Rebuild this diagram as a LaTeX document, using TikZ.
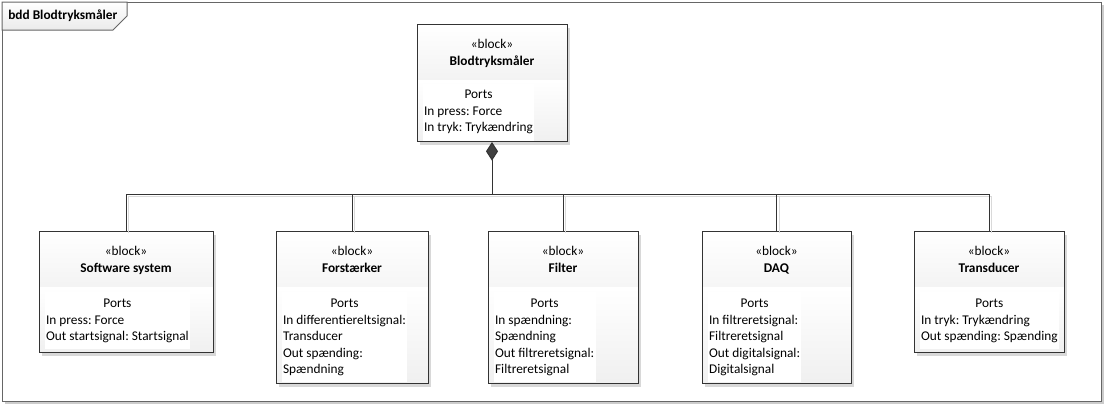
\documentclass[tikz,border=0pt]{standalone}
\usepackage{fontspec}
\setmainfont{Carlito}
\frenchspacing
\usetikzlibrary{positioning,shadows,arrows.meta}

\begin{document}
\begin{tikzpicture}[
  x = 0.75pt, y = -0.75pt,
  blocksize/.style 2 args = {minimum width = #1*0.75pt, minimum height = #2*0.75pt},
  frame/.style = {draw = black!60, line width = 0.75pt, fill = white, inner sep = 0pt,
    drop shadow = {shadow xshift = 1.5pt, shadow yshift = -1.5pt, fill = black!40}},
  tab/.style = {draw = black!60, line width = 0.75pt, top color = white, bottom color = black!8},
  block/.style = {draw = black!80, line width = 0.75pt, fill = white, inner sep = 0pt,
    drop shadow = {shadow xshift = 2.25pt, shadow yshift = -2.25pt, fill = black!30},
    path picture = {
      \shade[top color = white, bottom color = black!10]
        (path picture bounding box.north west) rectangle
        ([yshift = -42pt]path picture bounding box.north east);
      \shade[top color = white, bottom color = black!6]
        ([yshift = -42pt]path picture bounding box.north west) rectangle
        (path picture bounding box.south east);
    }},
  head/.style = {align = center, inner sep = 0pt, font = \fontsize{10}{12.75}\selectfont},
  ports/.style = {fill = white, inner xsep = 1pt, inner ysep = 2.8pt,
    font = \fontsize{10}{12.4}\selectfont},
  conn/.style = {draw = black!80, line width = 0.75pt,
    preaction = {draw = black!15, transform canvas = {shift = {(1.7pt,-1.7pt)}}}}
]

\useasboundingbox (0,0) rectangle (1105,405);

% frame
\node[frame, blocksize = {1099}{399}, anchor = north west] (frame) at (2,2) {};
\shadedraw[tab] (frame.north west) -- ++(125,0) -- ++(0,14) -- ++(-14,14) -- ++(-111,0) -- cycle;
\node[anchor = west, inner sep = 0pt, font = \bfseries\fontsize{10}{12}\selectfont]
  (frametitle) at (8,16) {bdd Blodtryksmåler};

% top block
\node[block, blocksize = {150}{117}, anchor = north] (maaler) at (492,24) {};
\node[head, below = 11.5pt of maaler.north] (maaler-head)
  {«block»\\\textbf{Blodtryksmåler}};
\node[ports, below right = 44.5pt and 4.5pt of maaler.north west] (maaler-ports)
  {\begin{tabular}{@{}l@{}}\multicolumn{1}{@{}c@{}}{Ports}\\
   In press: Force\\In tryk: Trykændring\end{tabular}};

% parts
\node[block, blocksize = {174}{121}, anchor = north] (software) at (126,231) {};
\node[head, below = 11.5pt of software.north] (software-head)
  {«block»\\\textbf{Software system}};
\node[ports, below right = 45.75pt and 4.5pt of software.north west] (software-ports)
  {\begin{tabular}{@{}l@{}}\multicolumn{1}{@{}c@{}}{Ports}\\
   In press: Force\\Out startsignal: Startsignal\end{tabular}};

\node[block, blocksize = {152}{152}, anchor = north] (forst) at (352,231) {};
\node[head, below = 11.5pt of forst.north] (forst-head)
  {«block»\\\textbf{Forstærker}};
\node[ports, below right = 45.75pt and 4.5pt of forst.north west] (forst-ports)
  {\begin{tabular}{@{}l@{}}\multicolumn{1}{@{}c@{}}{Ports}\\
   In differentiereltsignal:\\Transducer\\Out spænding:\\Spændning\end{tabular}};

\node[block, blocksize = {150}{152}, anchor = north] (filter) at (563,231) {};
\node[head, below = 11.5pt of filter.north] (filter-head)
  {«block»\\\textbf{Filter}};
\node[ports, below right = 45.75pt and 4.5pt of filter.north west] (filter-ports)
  {\begin{tabular}{@{}l@{}}\multicolumn{1}{@{}c@{}}{Ports}\\
   In spændning:\\Spændning\\Out filtreretsignal:\\Filtreretsignal\end{tabular}};

\node[block, blocksize = {149}{152}, anchor = north] (daq) at (776.5,231) {};
\node[head, below = 11.5pt of daq.north] (daq-head)
  {«block»\\\textbf{DAQ}};
\node[ports, below right = 45.75pt and 4.5pt of daq.north west] (daq-ports)
  {\begin{tabular}{@{}l@{}}\multicolumn{1}{@{}c@{}}{Ports}\\
   In filtreretsignal:\\Filtreretsignal\\Out digitalsignal:\\Digitalsignal\end{tabular}};

\node[block, blocksize = {150}{121}, anchor = north] (transducer) at (989,231) {};
\node[head, below = 11.5pt of transducer.north] (transducer-head)
  {«block»\\\textbf{Transducer}};
\node[ports, below right = 45.75pt and 4.5pt of transducer.north west] (transducer-ports)
  {\begin{tabular}{@{}l@{}}\multicolumn{1}{@{}c@{}}{Ports}\\
   In tryk: Trykændring\\Out spænding: Spænding\end{tabular}};

% composition
\coordinate (bus) at (492,194);
\draw[conn] (software.north) -- (software.north |- bus) -- (transducer.north |- bus) -- (transducer.north);
\foreach \n in {forst, filter, daq}
  \draw[conn] (\n.north |- bus) -- (\n.north);
\draw[draw = black!80, line width = 0.75pt, {Diamond[width = 9pt, length = 14pt, fill = black!75]}-]
  (maaler.south) -- (maaler.south |- bus);

\end{tikzpicture}
\end{document}
